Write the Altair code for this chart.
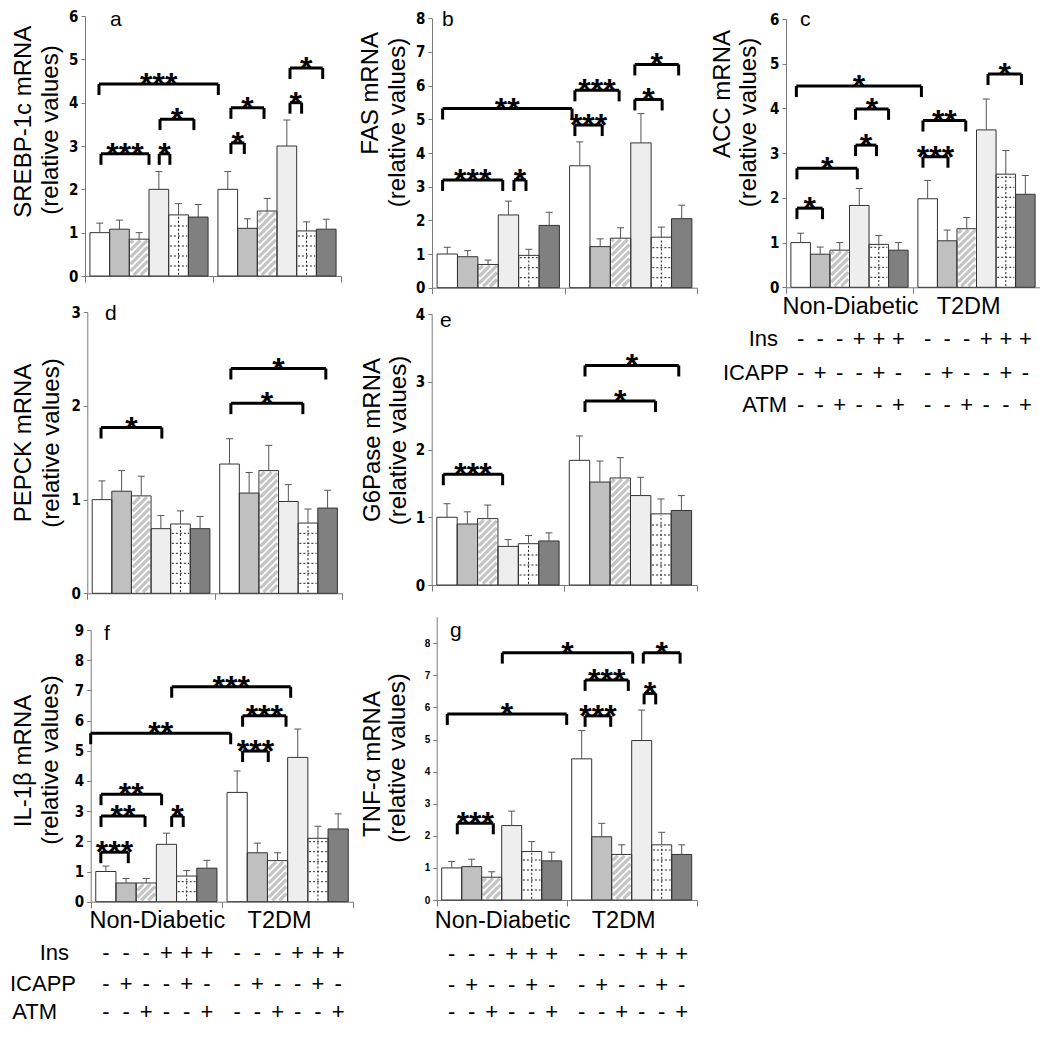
import altair as alt
import pandas as pd

# ---------------- data ----------------
groups = ["Non-Diabetic", "T2DM"]
treatments = ["Control", "ICAPP", "ATM", "Ins", "Ins+ICAPP", "Ins+ATM"]
ins_signs = ["-", "-", "-", "+", "+", "+"]
icapp_signs = ["-", "+", "-", "-", "+", "-"]
atm_signs = ["-", "-", "+", "-", "-", "+"]

srebp_mean = [1.00, 1.08, 0.85, 2.00, 1.41, 1.36, 2.00, 1.10, 1.50, 3.00, 1.04, 1.08]
srebp_sem = [0.22, 0.21, 0.15, 0.41, 0.26, 0.29, 0.41, 0.22, 0.29, 0.60, 0.21, 0.23]
srebp_sig = [(0.71, 6.77, 4.43, "***"), (0.81, 3.25, 2.82, "***"), (3.77, 4.31, 2.82, "*"),
             (3.81, 5.53, 3.62, "*"), (7.41, 8.09, 3.07, "*"), (7.41, 9.09, 3.88, "*"),
             (10.41, 11.0, 4.0, "*"), (10.41, 12.07, 4.8, "*")]

fas_mean = [1.00, 0.92, 0.69, 2.16, 0.96, 1.85, 3.62, 1.22, 1.47, 4.30, 1.50, 2.05]
fas_sem = [0.20, 0.18, 0.13, 0.41, 0.18, 0.39, 0.71, 0.23, 0.31, 0.87, 0.30, 0.40]
fas_sig = [(0.52, 6.87, 5.32, "**"), (0.52, 3.47, 3.2, "***"), (4.02, 4.61, 3.2, "*"),
           (7.01, 8.35, 4.83, "***"), (7.01, 9.18, 5.86, "***"), (9.95, 11.29, 5.59, "*"),
           (9.95, 12.1, 6.63, "*")]

acc_mean = [1.00, 0.74, 0.83, 1.83, 0.96, 0.83, 1.98, 1.04, 1.31, 3.52, 2.53, 2.08]
acc_sem = [0.21, 0.16, 0.17, 0.38, 0.20, 0.17, 0.41, 0.24, 0.25, 0.69, 0.53, 0.42]
acc_sig = [(0.53, 6.93, 4.5, "*"), (0.56, 1.87, 1.77, "*"), (0.56, 3.65, 2.66, "*"),
           (3.56, 4.63, 3.18, "*"), (3.56, 5.25, 3.99, "*"), (7.01, 8.29, 2.92, "***"),
           (7.01, 9.2, 3.73, "**"), (10.34, 12.05, 4.77, "*")]

pepck_mean = [1.00, 1.09, 1.04, 0.69, 0.74, 0.69, 1.38, 1.07, 1.31, 0.98, 0.75, 0.91]
pepck_sem = [0.20, 0.22, 0.21, 0.14, 0.14, 0.13, 0.27, 0.22, 0.27, 0.18, 0.15, 0.19]
pepck_sig = [(0.7, 3.8, 1.77, "*"), (7.32, 10.99, 2.03, "*"), (7.32, 12.16, 2.4, "*")]

g6p_mean = [1.00, 0.90, 0.98, 0.57, 0.61, 0.65, 1.84, 1.52, 1.58, 1.32, 1.05, 1.10]
g6p_sem = [0.20, 0.18, 0.20, 0.10, 0.12, 0.12, 0.36, 0.31, 0.30, 0.27, 0.22, 0.22]
g6p_sig = [(0.57, 3.48, 1.635, "***"), (7.52, 10.98, 2.715, "*"), (7.52, 12.12, 3.24, "*")]

il1b_mean = [1.00, 0.62, 0.62, 1.90, 0.85, 1.11, 3.62, 1.62, 1.36, 4.78, 2.10, 2.41]
il1b_sem = [0.18, 0.15, 0.15, 0.37, 0.18, 0.26, 0.71, 0.32, 0.26, 0.94, 0.40, 0.50]
il1b_sig = [(4.01, 9.9, 7.12, "***"), (7.52, 9.67, 6.16, "***"), (7.52, 8.79, 4.99, "***"),
            (0.0, 6.93, 5.58, "**"), (0.51, 3.51, 3.56, "**"), (0.51, 2.69, 2.84, "**"),
            (4.01, 4.58, 2.84, "*"), (0.5, 1.86, 1.64, "***")]

tnf_mean = [1.00, 1.04, 0.71, 2.32, 1.51, 1.22, 4.40, 1.97, 1.42, 4.97, 1.72, 1.42]
tnf_sem = [0.20, 0.23, 0.17, 0.45, 0.31, 0.27, 0.88, 0.42, 0.30, 0.95, 0.39, 0.30]
tnf_sig = [(3.28, 9.8, 7.71, "*"), (10.33, 12.17, 7.71, "*"), (7.42, 9.58, 6.86, "***"),
           (10.37, 10.95, 6.44, "*"), (0.53, 6.5, 5.8, "*"), (7.42, 8.7, 5.74, "***"),
           (1.03, 2.83, 2.39, "***")]

# ---------------- style / layout ----------------
FONT = "Liberation Sans, Arial, sans-serif"
TICKFONT = "Liberation Sans Narrow, DejaVu Sans Condensed, Arial Narrow, sans-serif"
FILLS = ["#ffffff", "#c0c0c0", "#ffffff", "#eeeeee", "#ffffff", "#808080"]
AXIS_GRAY = "#7a7a7a"
ONE = pd.DataFrame({"k": [0]})
OFF = 8            # page margin: canvas coordinate = page coordinate - OFF
CW, CH = 1032, 1020

# letter = (left x, y, baseline) in page coordinates
panels = {
    "a": dict(mean=srebp_mean, sem=srebp_sem, sig=srebp_sig, ymax=6, ticks=list(range(7)),
              X=85, Y=16, W=256, H=260, letter=(110, 8.5, "top"),
              titles=[("SREBP-1c mRNA", 23.5, 121.7), ("(relative values)", 50.5, 130)]),
    "b": dict(mean=fas_mean, sem=fas_sem, sig=fas_sig, ymax=8, ticks=list(range(9)),
              X=432, Y=18.3, W=265, H=269.4, letter=(442, 8.5, "top"),
              titles=[("FAS mRNA", 370.5, 93.3), ("(relative values)", 397.5, 122.5)]),
    "c": dict(mean=acc_mean, sem=acc_sem, sig=acc_sig, ymax=6, ticks=list(range(7)),
              X=786, Y=19, W=254, H=268.3, letter=(800, 8.5, "top"),
              titles=[("ACC mRNA", 723, 94), ("(relative values)", 749, 122.5)],
              table=dict(group_y=307, rows_y=[339, 373, 405], label_x=[778, 789, 787])),
    "d": dict(mean=pepck_mean, sem=pepck_sem, sig=pepck_sig, ymax=3, ticks=list(range(4)),
              X=87.3, Y=312.3, W=255, H=281, letter=(105, 320, "alphabetic"),
              titles=[("PEPCK mRNA", 24, 443), ("(relative values)", 51.5, 443)]),
    "e": dict(mean=g6p_mean, sem=g6p_sem, sig=g6p_sig, ymax=4, ticks=list(range(5)),
              X=431.7, Y=314, W=265, H=271, letter=(440, 327, "alphabetic"),
              titles=[("G6Pase mRNA", 372.5, 440), ("(relative values)", 398.5, 440.5)]),
    "f": dict(mean=il1b_mean, sem=il1b_sem, sig=il1b_sig, ymax=9, ticks=list(range(10)),
              X=90.7, Y=630, W=262.6, H=271.7, letter=(104, 640, "alphabetic"),
              titles=[("IL-1\u03b2 mRNA", 24, 761), ("(relative values)", 51, 760)],
              table=dict(group_y=921, rows_y=[953, 984, 1012], label_x=[69, 76, 57])),
    "g": dict(mean=tnf_mean, sem=tnf_sem, sig=tnf_sig, ymax=8.83, ticks=list(range(9)),
              X=436.7, Y=616.7, W=260, H=283.3, letter=(450, 637, "alphabetic"),
              titles=[("TNF-\u03b1 mRNA", 372.5, 764), ("(relative values)", 397.5, 758)],
              table=dict(group_y=921, rows_y=[954, 985, 1012], label_x=None),
              small_ticks=True),
}


def bar_left(i):
    return 0.25 + i if i < 6 else 6.75 + (i - 6)


def make_panel(name, p):
    W, H, ymax = p["W"], p["H"], p["ymax"]
    x0p, y0p = p["X"] - OFF, p["Y"] - OFF
    pxx, pxy = W / 13.0, H / ymax
    xs = alt.Scale(domain=[0, 13], range=[x0p, x0p + W], nice=False, zero=False)
    ys = alt.Scale(domain=[0, ymax], range=[y0p + H, y0p], nice=False, zero=False)

    small = p.get("small_ticks", False)
    yaxis = alt.Axis(orient="left", offset=-x0p, values=p["ticks"], title=None, grid=False,
                     domainColor=AXIS_GRAY, tickColor=AXIS_GRAY, tickSize=4, labelColor="black",
                     labelFont=FONT if small else TICKFONT, labelFontSize=10 if small else 15,
                     labelFontWeight="bold", labelPadding=3)
    xaxis = alt.Axis(orient="bottom", offset=(y0p + H) - CH, values=[0, 6.5, 13], labels=False,
                     title=None, grid=False, domainColor=AXIS_GRAY, tickColor=AXIS_GRAY, tickSize=6)

    def X(f):
        return alt.X(f, scale=xs, axis=xaxis)

    def Y(f):
        return alt.Y(f, scale=ys, axis=yaxis)

    rows = []
    for i, (m, s) in enumerate(zip(p["mean"], p["sem"])):
        l = bar_left(i)
        rows.append(dict(treatment=treatments[i % 6], group=groups[i // 6], x0=l, x1=l + 1,
                         xc=l + 0.5, cl=l + 0.5 - 3.5 / pxx, cr=l + 0.5 + 3.5 / pxx,
                         mean=m, top=m + s, zero=0.0))
    base = alt.Chart(pd.DataFrame(rows))

    layers = [base.mark_bar(strokeWidth=0).encode(
        x=X("x0:Q"), x2="x1", y=Y("mean:Q"), y2="zero",
        fill=alt.Fill("treatment:N", scale=alt.Scale(domain=treatments, range=FILLS), legend=None))]

    # pattern strokes: diagonal hatch (ATM bars) and dotted grid (Ins+ICAPP bars)
    hatch, grid = [], []
    ins = 1.2
    for i, m in enumerate(p["mean"]):
        l = bar_left(i)
        wpx, hpx = pxx, m * pxy
        xlo, xhi, ylo, yhi = ins, wpx - ins, ins, hpx - ins
        if i % 6 == 2:
            c = ylo - xhi
            while c < yhi - xlo:
                xa = max(xlo, ylo - c)
                xb = min(xhi, yhi - c)
                if xb - xa > 0.5:
                    hatch.append(dict(x=l + xa / pxx, x2=l + xb / pxx, y=(xa + c) / pxy, y2=(xb + c) / pxy))
                c += 7.0
        if i % 6 == 4:
            grid.append(dict(x=l + 0.5, x2=l + 0.5, y=ylo / pxy, y2=yhi / pxy))
            yy = 10.0
            while yy < hpx - 2:
                grid.append(dict(x=l + xlo / pxx, x2=l + xhi / pxx, y=yy / pxy, y2=yy / pxy))
                yy += 10.0
    layers.append(alt.Chart(pd.DataFrame(hatch)).mark_rule(color="#c4c4c4", strokeWidth=3.2).encode(
        x=X("x:Q"), x2="x2", y=Y("y:Q"), y2="y2"))
    layers.append(alt.Chart(pd.DataFrame(grid)).mark_rule(color="#222222", strokeWidth=1,
                                                           strokeDash=[2, 2]).encode(
        x=X("x:Q"), x2="x2", y=Y("y:Q"), y2="y2"))

    # bar outlines
    layers.append(base.mark_bar(fill="transparent", stroke="#333333", strokeWidth=1).encode(
        x=X("x0:Q"), x2="x1", y=Y("mean:Q"), y2="zero"))

    # error bars (upper only)
    layers.append(base.mark_rule(color="#555555", strokeWidth=1).encode(
        x=X("xc:Q"), y=Y("mean:Q"), y2="top"))
    layers.append(base.mark_rule(color="#555555", strokeWidth=1).encode(
        x=X("cl:Q"), x2="cr", y=Y("top:Q")))

    # significance brackets
    drop = 11.0 / pxy
    segs, stars = [], []
    for (x1, x2, yv, lab) in p["sig"]:
        segs.append(dict(x=x1, x2=x2, y=yv, y2=yv))
        segs.append(dict(x=x1, x2=x1, y=yv, y2=yv - drop))
        segs.append(dict(x=x2, x2=x2, y=yv, y2=yv - drop))
        stars.append(dict(xm=(x1 + x2) / 2, y=yv, label=lab))
    layers.append(alt.Chart(pd.DataFrame(segs)).mark_rule(color="black", strokeWidth=3).encode(
        x=X("x:Q"), x2="x2", y=Y("y:Q"), y2="y2"))
    layers.append(alt.Chart(pd.DataFrame(stars)).mark_text(
        font=FONT, fontSize=32, fontWeight="bold", baseline="alphabetic", align="center", dy=11,
        color="black").encode(x=X("xm:Q"), y=Y("y:Q"), text="label:N"))

    # panel letter
    lx, ly, lb = p["letter"]
    layers.append(alt.Chart(ONE).mark_text(text=name, font=FONT, fontSize=21, align="left",
                                           baseline=lb, color="black").encode(
        x=alt.value(lx - OFF), y=alt.value(ly - OFF)))

    # y-axis titles (two lines)
    for (txt, tx, ty) in p["titles"]:
        layers.append(alt.Chart(ONE).mark_text(text=txt, font=FONT, fontSize=24, angle=270,
                                               align="center", baseline="middle", color="black").encode(
            x=alt.value(tx - OFF), y=alt.value(ty - OFF)))

    # treatment table
    if "table" in p:
        t = p["table"]
        gdf = pd.DataFrame({"gx": [3.3, 9.35], "g": groups})
        layers.append(alt.Chart(gdf).mark_text(font=FONT, fontSize=23.5, baseline="middle",
                                               align="center", color="black").encode(
            x=X("gx:Q"), y=alt.value(t["group_y"] - OFF), text="g:N"))
        row_names = ["Ins", "ICAPP", "ATM"]
        row_signs = [ins_signs, icapp_signs, atm_signs]
        for r in range(3):
            sdf = pd.DataFrame({"xc": [bar_left(i) + 0.5 for i in range(12)],
                                "s": row_signs[r] * 2})
            layers.append(alt.Chart(sdf).mark_text(font=FONT, fontSize=22, baseline="middle",
                                                   align="center", color="black").encode(
                x=X("xc:Q"), y=alt.value(t["rows_y"][r] - OFF), text="s:N"))
            if t["label_x"] is not None:
                layers.append(alt.Chart(ONE).mark_text(text=row_names[r], font=FONT, fontSize=22,
                                                       baseline="middle", align="right",
                                                       color="black").encode(
                    x=alt.value(t["label_x"][r] - OFF), y=alt.value(t["rows_y"][r] - OFF)))

    return alt.layer(*layers)


panel_charts = [make_panel(k, v) for k, v in panels.items()]

chart = alt.layer(*panel_charts).resolve_scale(
    x="independent", y="independent"
).resolve_axis(
    x="independent", y="independent"
).properties(
    width=CW, height=CH, padding=0, background="white",
    autosize=alt.AutoSizeParams(type="none"),
).configure_view(stroke=None)

chart.save("out.html", embed_options={"renderer": "svg", "actions": False})
